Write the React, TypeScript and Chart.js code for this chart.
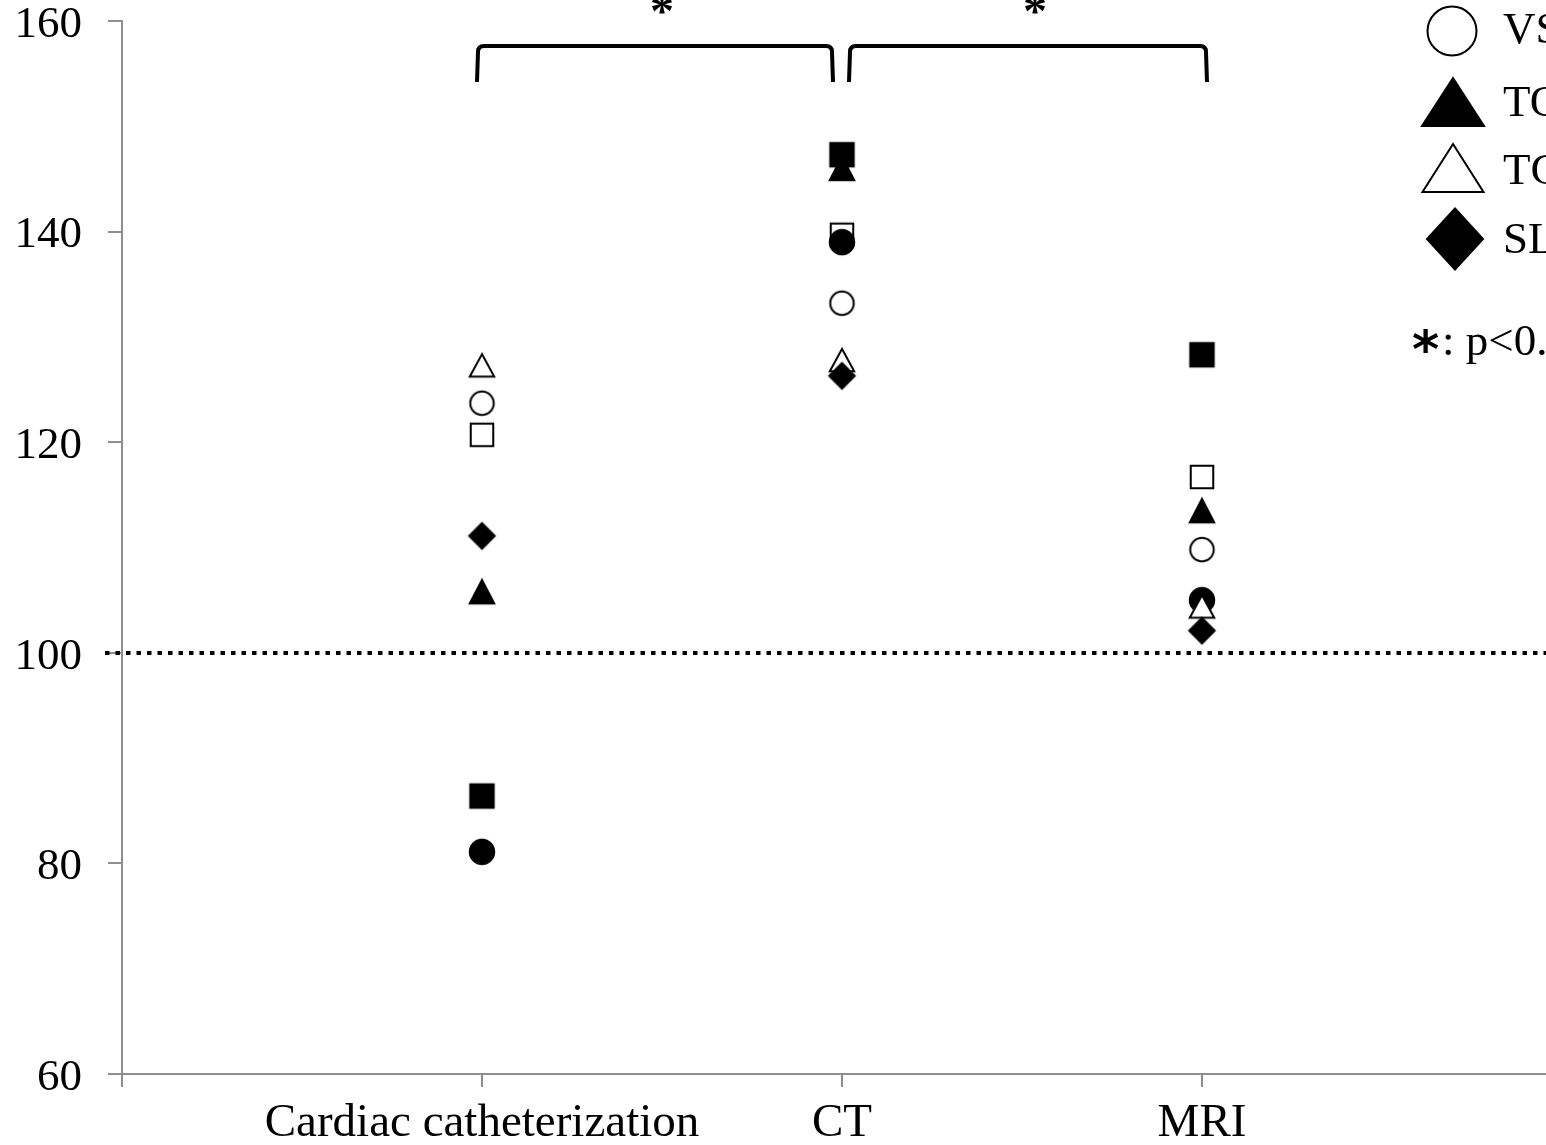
import React, { useEffect, useRef } from "react";
import { Chart, registerables } from "chart.js";

Chart.register(...registerables);

// ---------- data ----------
const categories = ["Cardiac catheterization", "CT", "MRI"];
const categoryX = [1, 2, 3];
const yTicks = [60, 80, 100, 120, 140, 160];
const legendLabels = ["VSD", "TOF", "TGA", "SLV"];
const openCircle = [123.7, 133.2, 109.8];
const filledTriangle = [105.8, 146.0, 113.5];
const openTriangle = [127.3, 127.8, 104.4];
const diamond = [111.1, 126.3, 102.1];
const openSquare = [120.7, 139.7, 116.7];
const filledCircle = [81.1, 139.0, 105.0];
const filledSquare = [86.4, 147.3, 128.3];
const referenceValue = 100;
const significanceMark = "*";
const significanceText = ": p<0.05";
const bracketPairs = [
  [1, 2],
  [2, 3],
];

const FONT = "'Liberation Serif', 'Times New Roman', serif";
const AXIS_GRAY = "#8e8e8e";

type Shape = "circle" | "square" | "triangle" | "diamond";

function shapePath(ctx: CanvasRenderingContext2D, shape: Shape, cx: number, cy: number, w: number, h: number) {
  ctx.beginPath();
  if (shape === "circle") {
    ctx.ellipse(cx, cy, w / 2, h / 2, 0, 0, Math.PI * 2);
  } else if (shape === "square") {
    ctx.rect(cx - w / 2, cy - h / 2, w, h);
  } else if (shape === "triangle") {
    ctx.moveTo(cx, cy - h / 2);
    ctx.lineTo(cx + w / 2, cy + h / 2);
    ctx.lineTo(cx - w / 2, cy + h / 2);
    ctx.closePath();
  } else {
    ctx.moveTo(cx, cy - h / 2);
    ctx.lineTo(cx + w / 2, cy);
    ctx.lineTo(cx, cy + h / 2);
    ctx.lineTo(cx - w / 2, cy);
    ctx.closePath();
  }
}

function drawShape(ctx: CanvasRenderingContext2D, shape: Shape, filled: boolean, cx: number, cy: number, w: number, h: number, lw: number) {
  ctx.save();
  shapePath(ctx, shape, cx, cy, w, h);
  ctx.fillStyle = filled ? "#000" : "#fff";
  ctx.fill();
  ctx.lineWidth = lw;
  ctx.strokeStyle = "#000";
  ctx.lineJoin = "miter";
  ctx.stroke();
  ctx.restore();
}

function makeMarker(shape: Shape, filled: boolean, w: number, h: number): HTMLCanvasElement {
  const c = document.createElement("canvas");
  const pad = 2;
  c.width = w + pad * 2;
  c.height = h + pad * 2;
  const ctx = c.getContext("2d")!;
  drawShape(ctx, shape, filled, c.width / 2, c.height / 2, w - 1.5, h - 1.5, 2);
  return c;
}

const seriesDefs = [
  { label: legendLabels[0], values: openCircle, shape: "circle" as Shape, filled: false, w: 25, h: 25, order: 6 },
  { label: legendLabels[1], values: filledTriangle, shape: "triangle" as Shape, filled: true, w: 26, h: 25, order: 5 },
  { label: legendLabels[2], values: openTriangle, shape: "triangle" as Shape, filled: false, w: 26, h: 24, order: 1 },
  { label: legendLabels[3], values: diamond, shape: "diamond" as Shape, filled: true, w: 27, h: 27, order: 0 },
  { label: "Series 5", values: openSquare, shape: "square" as Shape, filled: false, w: 24, h: 24, order: 3 },
  { label: "Series 6", values: filledCircle, shape: "circle" as Shape, filled: true, w: 26, h: 26, order: 2 },
  { label: "Series 7", values: filledSquare, shape: "square" as Shape, filled: true, w: 25, h: 25, order: 4 },
];

const overlayPlugin = {
  id: "overlay",
  beforeDatasetsDraw(chart: any) {
    const { ctx, scales } = chart;
    const y = Math.round(scales.y.getPixelForValue(referenceValue));
    ctx.save();
    ctx.strokeStyle = "#000";
    ctx.lineWidth = 4;
    ctx.setLineDash([4.5, 6]);
    ctx.beginPath();
    ctx.moveTo(105, y);
    ctx.lineTo(chart.width, y);
    ctx.stroke();
    ctx.restore();
  },
  afterDraw(chart: any) {
    const { ctx, scales } = chart;
    ctx.save();
    // brackets
    const top = 46;
    const bottom = 82;
    const r = 6;
    ctx.strokeStyle = "#000";
    ctx.lineWidth = 4;
    bracketPairs.forEach(([a, b], i) => {
      const x1 = scales.x.getPixelForValue(a) + (i === 0 ? -5 : 7);
      const x2 = scales.x.getPixelForValue(b) + (i === 0 ? -9 : 5);
      ctx.beginPath();
      ctx.moveTo(x1, bottom);
      ctx.lineTo(x1 + 1, top + r);
      ctx.quadraticCurveTo(x1 + 1, top, x1 + 1 + r, top);
      ctx.lineTo(x2 - 1 - r, top);
      ctx.quadraticCurveTo(x2 - 1, top, x2 - 1, top + r);
      ctx.lineTo(x2, bottom);
      ctx.stroke();
      ctx.fillStyle = "#000";
      ctx.font = `bold 48px ${FONT}`;
      ctx.textAlign = "center";
      ctx.textBaseline = "alphabetic";
      ctx.fillText(significanceMark, (x1 + x2) / 2 + 7, 27);
    });

    // legend
    const legendItems = [
      { shape: "circle" as Shape, filled: false, cx: 1452, cy: 31, w: 49, h: 49, ty: 31 },
      { shape: "triangle" as Shape, filled: true, cx: 1453, cy: 102, w: 62, h: 48, ty: 104 },
      { shape: "triangle" as Shape, filled: false, cx: 1453, cy: 168, w: 61, h: 48, ty: 172 },
      { shape: "diamond" as Shape, filled: true, cx: 1455, cy: 239, w: 56, h: 61, ty: 241 },
    ];
    legendItems.forEach((it, i) => {
      drawShape(ctx, it.shape, it.filled, it.cx, it.cy, it.w, it.h, 2);
      ctx.fillStyle = "#000";
      ctx.font = `45px ${FONT}`;
      ctx.textAlign = "left";
      ctx.textBaseline = "middle";
      ctx.fillText(legendLabels[i], 1503, it.ty);
    });
    ctx.textAlign = "left";
    ctx.textBaseline = "middle";
    ctx.font = `bold 52px 'DejaVu Sans', sans-serif`;
    ctx.fillText(significanceMark, 1412, 353);
    ctx.font = `45px ${FONT}`;
    ctx.fillText(significanceText, 1442, 343);
    ctx.restore();
  },
};

export default function App() {
  const canvasRef = useRef<HTMLCanvasElement | null>(null);

  useEffect(() => {
    document.body.style.margin = "0";
    document.body.style.overflow = "hidden";
    const canvas = canvasRef.current!;
    const datasets = seriesDefs.map((s) => ({
      label: s.label,
      data: categoryX.map((x, i) => ({ x, y: s.values[i] })),
      pointStyle: makeMarker(s.shape, s.filled, s.w, s.h),
      pointRadius: 13,
      showLine: false,
      order: s.order,
      backgroundColor: "#000",
      borderColor: "#000",
    }));

    const chart = new Chart(canvas, {
      type: "scatter",
      data: { datasets },
      options: {
        responsive: false,
        animation: false,
        events: [],
        layout: { padding: { left: 0, right: 138, top: 21, bottom: 0 } },
        plugins: {
          legend: { display: false },
          tooltip: { enabled: false },
          title: { display: false },
        },
        scales: {
          x: {
            type: "linear",
            min: 0,
            max: 4,
            afterBuildTicks: (scale: any) => {
              scale.ticks = [0, 1, 2, 3, 4].map((v) => ({ value: v }));
            },
            afterFit: (scale: any) => {
              scale.height = 71;
              scale.paddingLeft = 0;
              scale.paddingRight = 0;
            },
            ticks: {
              autoSkip: false,
              maxRotation: 0,
              padding: 8,
              color: "#000",
              font: { family: FONT, size: 47 },
              callback: (v: any) => {
                const idx = categoryX.indexOf(Number(v));
                return idx >= 0 ? categories[idx] : "";
              },
            },
            grid: {
              drawOnChartArea: false,
              drawTicks: true,
              tickLength: 13,
              color: AXIS_GRAY,
              lineWidth: 2,
            },
            border: { display: true, color: AXIS_GRAY, width: 2 },
          },
          y: {
            type: "linear",
            min: yTicks[0],
            max: yTicks[yTicks.length - 1],
            afterBuildTicks: (scale: any) => {
              scale.ticks = yTicks.map((v) => ({ value: v }));
            },
            afterFit: (scale: any) => {
              scale.width = 122;
              scale.paddingTop = 0;
              scale.paddingBottom = 0;
            },
            ticks: {
              padding: 26,
              labelOffset: 4,
              color: "#000",
              font: { family: FONT, size: 45 },
              callback: (v: any) => String(v),
            },
            grid: {
              drawOnChartArea: false,
              drawTicks: true,
              tickLength: 14,
              color: AXIS_GRAY,
              lineWidth: 2,
            },
            border: { display: true, color: AXIS_GRAY, width: 2 },
          },
        },
      },
      plugins: [overlayPlugin],
    });
    return () => chart.destroy();
  }, []);

  return (
    <div style={{ position: "fixed", left: 0, top: 0, width: 1546, height: 1145, overflow: "hidden", background: "#fff" }}>
      <canvas ref={canvasRef} width={1700} height={1145} style={{ width: 1700, height: 1145, display: "block" }} />
    </div>
  );
}
